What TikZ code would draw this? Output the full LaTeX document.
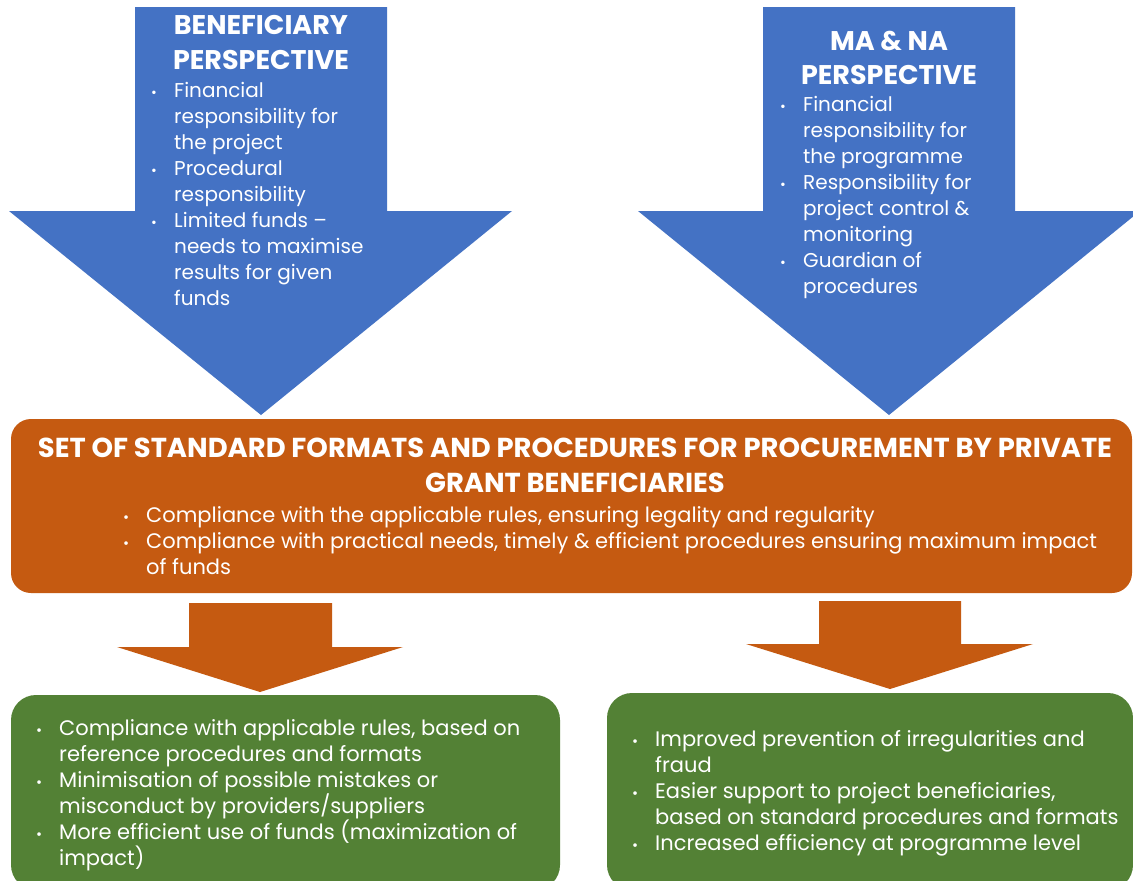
\documentclass[tikz,border=0pt]{standalone}
\usepackage{fontspec}
\setmainfont{Poppins}
\definecolor{blu}{HTML}{4472C4}
\definecolor{org}{HTML}{C55A11}
\definecolor{grn}{HTML}{538135}
\newcommand{\bul}{\llap{\makebox[23pt][l]{\scalebox{0.7}{\textbullet}}}}
\tikzset{
  bodytxt/.style={text=white, inner sep=0pt, align=left, anchor=north west, font=\fontsize{20}{26}\selectfont},
  widetxt/.style={bodytxt, font=\fontsize{21}{26}\selectfont},
  headtxt/.style={text=white, inner sep=0pt, align=center, anchor=north, font=\fontsize{27}{35}\selectfont\bfseries},
}
\begin{document}
\begin{tikzpicture}[x=1pt,y=-1pt]
\useasboundingbox (0,0) rectangle (1133,881);
\clip (0,0) rectangle (1133,881);
\fill[white] (0,0) rectangle (1133,881);
% blue arrows
\fill[blu] (135,7) -- (387,7) -- (387,211) -- (512,211) -- (261,415) -- (9,211) -- (135,211) -- cycle;
\fill[blu] (763,7) -- (1015,7) -- (1015,211) -- (1140,211) -- (889,415) -- (638,211) -- (763,211) -- cycle;
% orange box
\fill[org, rounded corners=20pt] (11,419) rectangle (1132,593);
% orange arrows
\fill[org] (189,603) -- (332,603) -- (332,647) -- (403,647) -- (260,692) -- (117,647) -- (189,647) -- cycle;
\fill[org] (819,601) -- (961,601) -- (961,644) -- (1033,644) -- (890,689) -- (746,644) -- (819,644) -- cycle;
% green boxes
\fill[grn, rounded corners=25pt] (11,695) rectangle (560,890);
\fill[grn, rounded corners=25pt] (607,693) rectangle (1133,890);
% texts
\node[headtxt] (bt) at (261,15) {BENEFICIARY\\PERSPECTIVE};
\node[bodytxt] (bl) at (174,82) {\bul Financial\\responsibility for\\the project\\\bul Procedural\\responsibility\\\bul Limited funds –\\needs to maximise\\results for given\\funds};
\node[headtxt, font=\fontsize{27}{34}\selectfont\bfseries] (mt) at (889,31) {MA \& NA\\PERSPECTIVE};
\node[bodytxt] (ml) at (803,96) {\bul Financial\\responsibility for\\the programme\\\bul Responsibility for\\project control \&\\monitoring\\\bul Guardian of\\procedures};
\node[headtxt, font=\fontsize{27.4}{35}\selectfont\bfseries] (st) at (575,438) {SET OF STANDARD FORMATS AND PROCEDURES FOR PROCUREMENT BY PRIVATE\\GRANT BENEFICIARIES};
\node[widetxt] (sl) at (146,506) {\bul Compliance with the applicable rules, ensuring legality and regularity\\\bul Compliance with practical needs, timely \& efficient procedures ensuring maximum  impact\\of funds};
\node[widetxt] (gl) at (59,719) {\bul Compliance with applicable rules, based on\\reference procedures and formats\\\bul Minimisation of possible mistakes or\\misconduct by providers/suppliers\\\bul More efficient use of funds (maximization of\\impact)};
\node[widetxt] (gr) at (655,730) {\bul Improved prevention of irregularities and\\fraud\\\bul Easier support to project beneficiaries,\\based on standard procedures and formats\\\bul Increased efficiency at programme level};
\end{tikzpicture}
\end{document}
